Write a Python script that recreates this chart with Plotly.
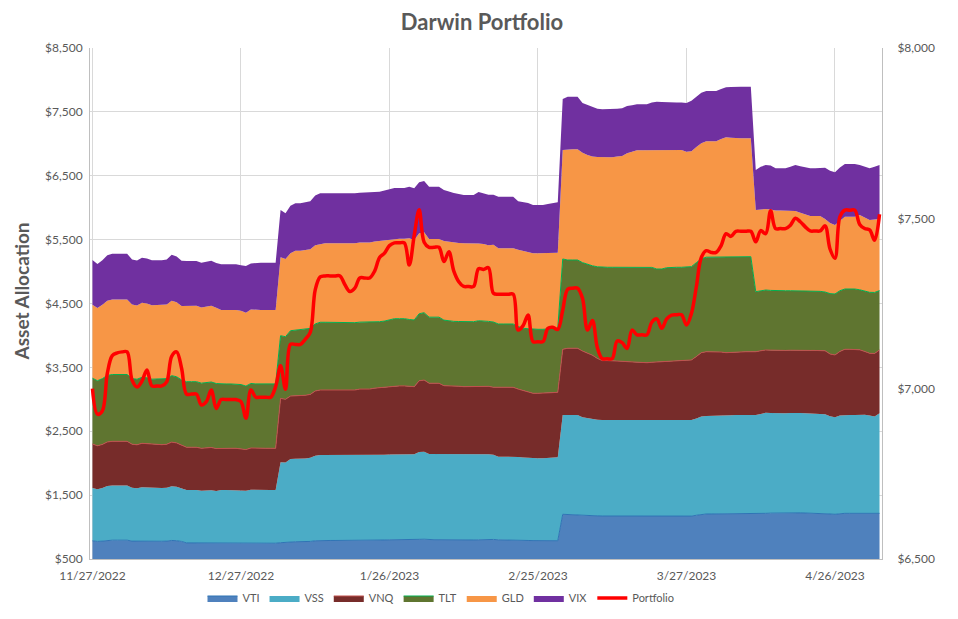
import pandas as pd
import plotly.graph_objects as go

start_date = "2022-11-27"
end_date = "2023-05-05"
dates = pd.date_range(start_date, end_date, freq="D")

VTI = [
    785, 775, 780, 792, 795, 795, 795, 795, 780, 778,
    785, 784, 778, 778, 778, 780, 790, 786, 775, 752,
    752, 752, 748, 750, 752, 748, 746, 746, 746, 746,
    745, 742, 748, 747, 747, 747, 747, 747, 755, 755,
    765, 770, 770, 772, 775, 785, 790, 790, 790, 790,
    790, 788, 787, 790, 792, 792, 792, 795, 796, 798,
    800, 800, 800, 800, 798, 800, 808, 810, 802, 802,
    802, 800, 800, 799, 798, 798, 798, 798, 800, 802,
    808, 806, 800, 800, 800, 800, 795, 792, 790, 788,
    788, 788, 786, 786, 786, 1200, 1195, 1195, 1195, 1189,
    1185, 1180, 1175, 1173, 1173, 1173, 1170, 1165, 1162, 1162,
    1162, 1162, 1162, 1165, 1165, 1165, 1168, 1170, 1170, 1170,
    1170, 1172, 1185, 1200, 1205, 1205, 1205, 1210, 1212, 1213,
    1215, 1215, 1215, 1215, 1205, 1210, 1215, 1218, 1220, 1220,
    1220, 1225, 1225, 1222, 1220, 1218, 1218, 1218, 1215, 1205,
    1200, 1210, 1215, 1215, 1215, 1215, 1215, 1213, 1212, 1215,
]

VSS = [
    827, 818, 830, 850, 855, 855, 855, 855, 835, 830,
    840, 838, 832, 832, 832, 834, 850, 845, 830, 828,
    828, 828, 820, 822, 826, 818, 834, 834, 834, 834,
    832, 828, 835, 833, 833, 833, 833, 833, 1259, 1255,
    1301, 1300, 1300, 1303, 1310, 1330, 1338, 1338, 1338, 1338,
    1338, 1337, 1335, 1338, 1336, 1336, 1336, 1333, 1334, 1334,
    1335, 1337, 1337, 1337, 1337, 1339, 1367, 1370, 1342, 1342,
    1342, 1340, 1339, 1340, 1340, 1339, 1339, 1339, 1340, 1340,
    1330, 1325, 1302, 1302, 1302, 1302, 1300, 1296, 1292, 1288,
    1288, 1288, 1299, 1304, 1306, 1555, 1560, 1560, 1560, 1531,
    1518, 1510, 1505, 1503, 1503, 1503, 1502, 1503, 1503, 1503,
    1503, 1503, 1503, 1503, 1503, 1505, 1504, 1504, 1504, 1504,
    1505, 1504, 1515, 1530, 1534, 1534, 1534, 1535, 1536, 1537,
    1540, 1540, 1540, 1540, 1550, 1560, 1575, 1567, 1560, 1560,
    1560, 1560, 1565, 1563, 1560, 1557, 1557, 1557, 1550, 1530,
    1518, 1535, 1540, 1540, 1540, 1543, 1545, 1532, 1518, 1566,
]

VNQ = [
    688, 680, 684, 690, 692, 692, 692, 692, 682, 680,
    686, 684, 680, 680, 680, 682, 690, 686, 676, 669,
    669, 669, 665, 666, 668, 663, 653, 653, 653, 653,
    650, 643, 655, 653, 653, 653, 653, 653, 1000, 990,
    985, 985, 985, 988, 992, 1015, 1018, 1018, 1018, 1018,
    1018, 1015, 1016, 1018, 1032, 1032, 1032, 1047, 1052, 1058,
    1065, 1073, 1073, 1073, 1070, 1059, 1115, 1122, 1107, 1107,
    1107, 1073, 1074, 1071, 1067, 1061, 1061, 1061, 1060, 1058,
    1065, 1058, 1086, 1086, 1086, 1086, 1065, 1047, 1038, 1018,
    1018, 1018, 1015, 1015, 1018, 1028, 1044, 1044, 1044, 1035,
    1020, 1000, 960, 930, 930, 930, 928, 927, 925, 920,
    908, 908, 908, 912, 917, 920, 928, 931, 931, 931,
    935, 940, 970, 1000, 1006, 1006, 1006, 995, 982, 985,
    990, 990, 990, 990, 990, 990, 982, 985, 985, 985,
    985, 983, 980, 985, 988, 990, 990, 990, 995, 975,
    976, 1005, 1028, 1028, 1028, 1017, 990, 975, 988, 991,
]

TLT = [
    1030, 1018, 1030, 1042, 1046, 1046, 1046, 1046, 1028, 1026,
    1034, 1032, 1025, 1025, 1025, 1028, 1040, 1036, 1022, 1027,
    1027, 1027, 1020, 1022, 1025, 1018, 1007, 1007, 1007, 1007,
    1004, 994, 1010, 1008, 1008, 1008, 1008, 1008, 982, 980,
    1023, 1030, 1030, 1032, 1033, 1050, 1060, 1060, 1060, 1060,
    1060, 1058, 1057, 1054, 1048, 1048, 1048, 1037, 1033, 1035,
    1040, 1052, 1052, 1052, 1045, 1044, 1050, 1054, 1035, 1035,
    1035, 1027, 1013, 1010, 1013, 1017, 1017, 1017, 1030, 1030,
    1017, 1021, 991, 991, 991, 991, 980, 977, 985, 1002,
    1002, 1002, 1000, 1003, 1002, 1414, 1382, 1382, 1382, 1385,
    1391, 1400, 1435, 1461, 1461, 1461, 1467, 1472, 1477, 1490,
    1495, 1495, 1495, 1485, 1455, 1450, 1460, 1462, 1462, 1462,
    1457, 1461, 1470, 1470, 1480, 1480, 1480, 1493, 1503, 1498,
    1488, 1488, 1488, 1488, 940, 940, 939, 935, 935, 935,
    935, 932, 930, 928, 927, 925, 925, 925, 920, 945,
    955, 950, 944, 944, 944, 940, 950, 955, 955, 930,
]

GLD = [
    1150, 1137, 1155, 1170, 1175, 1175, 1175, 1175, 1160, 1155,
    1165, 1162, 1158, 1158, 1158, 1160, 1175, 1168, 1158, 1190,
    1190, 1190, 1185, 1188, 1192, 1185, 1158, 1158, 1158, 1158,
    1155, 1150, 1160, 1158, 1158, 1158, 1158, 1158, 1227, 1217,
    1212, 1242, 1242, 1240, 1240, 1230, 1226, 1237, 1237, 1237,
    1237, 1242, 1243, 1243, 1247, 1247, 1247, 1258, 1264, 1265,
    1260, 1253, 1253, 1253, 1271, 1252, 1260, 1259, 1224, 1224,
    1224, 1240, 1242, 1235, 1230, 1228, 1228, 1228, 1210, 1200,
    1190, 1210, 1185, 1185, 1185, 1185, 1200, 1210, 1200, 1190,
    1190, 1190, 1190, 1184, 1183, 1706, 1733, 1733, 1733, 1720,
    1711, 1710, 1717, 1722, 1722, 1722, 1733, 1742, 1785, 1795,
    1830, 1830, 1830, 1838, 1863, 1855, 1832, 1836, 1836, 1836,
    1810, 1808, 1810, 1810, 1815, 1815, 1815, 1842, 1869, 1862,
    1853, 1853, 1853, 1853, 1279, 1275, 1269, 1265, 1255, 1255,
    1255, 1250, 1248, 1222, 1195, 1180, 1180, 1180, 1143, 1105,
    1080, 1100, 1132, 1132, 1132, 1171, 1150, 1132, 1142, 1121,
]

VIX = [
    701, 690, 700, 712, 716, 716, 716, 716, 705, 703,
    708, 706, 705, 705, 705, 706, 718, 714, 708, 700,
    700, 700, 700, 702, 705, 702, 716, 716, 716, 716,
    714, 730, 720, 740, 740, 740, 740, 740, 741, 715,
    746, 742, 742, 745, 750, 780, 793, 782, 782, 782,
    782, 780, 780, 782, 780, 780, 780, 775, 771, 780,
    790, 795, 795, 795, 808, 810, 800, 803, 819, 819,
    819, 795, 782, 775, 767, 756, 756, 756, 805, 795,
    794, 783, 808, 808, 808, 808, 760, 770, 770, 756,
    756, 756, 768, 778, 789, 797, 821, 821, 821, 780,
    785, 770, 758, 751, 751, 751, 750, 747, 740, 735,
    721, 721, 721, 742, 757, 760, 758, 745, 745, 745,
    763, 791, 790, 790, 785, 785, 785, 785, 783, 793,
    809, 809, 809, 809, 626, 665, 688, 690, 662, 662,
    662, 690, 720, 730, 740, 747, 747, 747, 802, 820,
    825, 830, 825, 825, 825, 782, 790, 810, 825, 845,
]

Portfolio = [
    7000, 6925, 6935, 7045, 7097, 7105, 7108, 7108, 7025, 7005,
    7022, 7055, 7008, 7008, 7008, 7020, 7095, 7108, 7060, 6984,
    6984, 6984, 6952, 6962, 6996, 6942, 6968, 6968, 6968, 6968,
    6962, 6913, 6996, 6975, 6975, 6975, 6975, 7006, 7067, 6998,
    7130, 7130, 7130, 7145, 7165, 7290, 7328, 7331, 7331, 7331,
    7331, 7305, 7285, 7295, 7325, 7325, 7325, 7345, 7385, 7398,
    7420, 7428, 7428, 7428, 7363, 7450, 7525, 7430, 7415, 7415,
    7415, 7373, 7402, 7345, 7314, 7300, 7300, 7300, 7352, 7350,
    7355, 7280, 7277, 7277, 7277, 7277, 7172, 7185, 7216, 7138,
    7138, 7138, 7177, 7180, 7174, 7230, 7292, 7295, 7295, 7265,
    7172, 7200, 7120, 7088, 7088, 7088, 7140, 7135, 7118, 7172,
    7158, 7158, 7158, 7195, 7205, 7177, 7205, 7216, 7217, 7217,
    7187, 7221, 7300, 7385, 7405, 7400, 7400, 7420, 7455, 7447,
    7462, 7462, 7462, 7462, 7431, 7464, 7455, 7522, 7470, 7470,
    7470, 7480, 7500, 7490, 7475, 7463, 7463, 7463, 7478, 7410,
    7383, 7505, 7524, 7524, 7524, 7482, 7470, 7466, 7436, 7512,
]

FONT = "Lato, 'Liberation Sans', Arial, sans-serif"
GRAY = "#595959"

series = [
    ("VTI", VTI, "#4F81BD", "#2F74B5", 1),
    ("VSS", VSS, "#4BACC6", "#4BACC6", 0),
    ("VNQ", VNQ, "#772C2A", "#C0504D", 1),
    ("TLT", TLT, "#5F7530", "#00B050", 1),
    ("GLD", GLD, "#F79646", "#F79646", 0),
    ("VIX", VIX, "#7030A0", "#7030A0", 0),
]

fig = go.Figure()
for name, vals, fill, edge, lw in series:
    fig.add_trace(go.Scatter(
        x=dates, y=vals, name=name, stackgroup="one", mode="lines",
        line=dict(width=lw, color=edge), fillcolor=fill,
    ))

fig.add_trace(go.Scatter(
    x=dates, y=Portfolio, name="Portfolio", yaxis="y2", mode="lines",
    line=dict(color="#FF0000", width=3.5, shape="spline", smoothing=1.0),
))

# the page body adds an 8px offset; margins below are chosen so the plot
# area lands at x 90..882, y 48..559 on screen
fig.update_layout(
    width=958, height=619,
    margin=dict(l=82, r=84, t=40, b=68, autoexpand=False),
    paper_bgcolor="white", plot_bgcolor="white",
    font=dict(family=FONT, size=12, color=GRAY),
    title=dict(text="<b>Darwin Portfolio</b>", x=474 / 958, xanchor="center",
               y=1 - 14 / 619, yanchor="middle", yref="container",
               xref="container",
               font=dict(family=FONT, size=22, color=GRAY)),
    showlegend=True,
    legend=dict(orientation="h", xref="container", yref="container",
                x=433 / 958, xanchor="center", y=1 - 590 / 619,
                yanchor="middle", traceorder="normal",
                font=dict(family=FONT, size=11, color=GRAY),
                itemwidth=30, tracegroupgap=0),
    xaxis=dict(
        type="date", automargin=False,
        range=["2022-11-26 12:00", "2023-05-05 12:00"],
        tick0=start_date, dtick=30 * 86400000, tickformat="%-m/%-d/%Y",
        showgrid=True, gridcolor="#D9D9D9", gridwidth=1,
        showline=True, linecolor="#BFBFBF", linewidth=1,
        ticks="", ticklabelstandoff=6,
        tickfont=dict(size=12, color=GRAY), zeroline=False,
    ),
    yaxis=dict(
        range=[500, 8500], tick0=500, dtick=1000, automargin=False,
        tickprefix="$", tickformat=",d",
        showgrid=True, gridcolor="#D9D9D9", gridwidth=1,
        showline=True, linecolor="#BFBFBF", linewidth=1,
        zeroline=False, ticks="", ticklabelstandoff=4,
        tickfont=dict(size=12, color=GRAY),
    ),
    yaxis2=dict(
        overlaying="y", side="right", range=[6500, 8000], tick0=6500, dtick=500,
        automargin=False,
        tickprefix="$", tickformat=",d", showgrid=False,
        showline=True, linecolor="#BFBFBF", linewidth=1,
        zeroline=False, ticks="", ticklabelstandoff=12,
        tickfont=dict(size=12, color=GRAY),
    ),
    annotations=[dict(
        text="<b>Asset Allocation</b>", textangle=-90,
        xref="paper", yref="paper", x=(13.5 - 82) / 792, y=0.5225,
        xanchor="center", yanchor="middle", showarrow=False,
        font=dict(family=FONT, size=19, color=GRAY),
    )],
)

fig.write_html("out.html")
